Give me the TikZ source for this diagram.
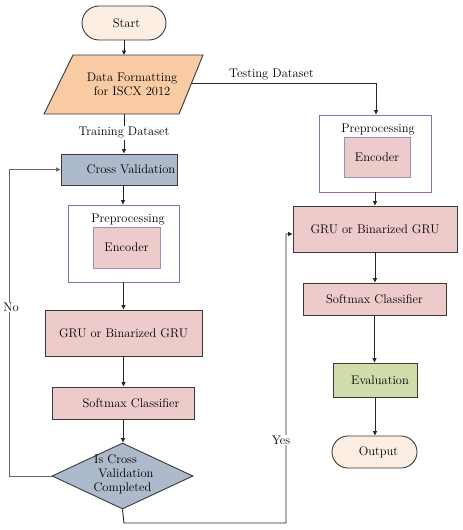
\documentclass[tikz,border=0pt]{standalone}
\usetikzlibrary{arrows.meta,shapes.geometric,shapes.misc,calc}
\definecolor{peach}{HTML}{FDEEE4}
\definecolor{orangef}{HTML}{F9CBA5}
\definecolor{bluegray}{HTML}{ADBACB}
\definecolor{pinkf}{HTML}{EECBCB}
\definecolor{greenf}{HTML}{CFDDAA}
\definecolor{purp}{HTML}{8A70AA}
\definecolor{edge}{HTML}{3A3A3A}
\tikzset{
  every node/.style={font=\rmfamily\fontsize{12.5}{14}\selectfont, inner sep=0pt},
  box/.style={draw=edge, line width=0.9pt, rectangle},
  term/.style={draw=edge, line width=0.9pt, rounded rectangle, fill=peach},
  prebox/.style={draw=purp, line width=0.8pt, fill=white},
  encbox/.style={draw=purp!80, line width=0.8pt, fill=pinkf},
  conn/.style={draw=black!85, line width=0.9pt, -{Triangle[length=4.5pt,width=4pt]}},
  lbl/.style={fill=white, inner sep=1pt},
}
\begin{document}
\begin{tikzpicture}[x=1pt,y=-1pt]
\useasboundingbox (0,0) rectangle (463,530);
% Start
\node[term, minimum width=84pt, minimum height=34pt, label={[xshift=2.5pt]center:Start}] (start) at (124,23) {};
% Data formatting parallelogram
\coordinate (dtop) at (124,55);
\coordinate (dbot) at (124,114);
\coordinate (dright) at (191.5,83);
\draw[fill=orangef, draw=edge, line width=0.9pt] (73,55) -- (203,55) -- (179,114) -- (44,114) -- cycle;
\node[align=center] (data) at (132,84) {Data Formatting\\for ISCX 2012};
% Cross validation
\node[box, fill=bluegray, minimum width=116pt, minimum height=31pt, label={[xshift=12pt]center:Cross Validation}] (cv) at (119,169.5) {};
% Left preprocessing
\node[prebox, minimum width=111pt, minimum height=77pt] (lpre) at (123.5,243.5) {};
\node (lpretxt) at (128,220) {Preprocessing};
\node[encbox, minimum width=67pt, minimum height=41pt] (lenc) at (126.5,247.5) {Encoder};
% Left GRU
\node[box, fill=pinkf, minimum width=157pt, minimum height=46pt] (lgru) at (123.5,333) {GRU or Binarized GRU};
% Left softmax
\node[box, fill=pinkf, minimum width=142pt, minimum height=32pt, label={[xshift=8pt]center:Softmax Classifier}] (lsoft) at (123,403) {};
% Diamond
\node[diamond, draw=edge, line width=0.9pt, fill=bluegray, minimum width=141pt, minimum height=66pt, aspect=2.14] (dia) at (122.5,476) {};
\node[align=center] (diatxt) at (122.5,474) {Is Cross\hspace*{14pt}\\\hspace*{7pt}Validation\\Completed};
% Right preprocessing
\node[prebox, minimum width=112pt, minimum height=77pt] (rpre) at (375,153.5) {};
\node (rpretxt) at (378,130) {Preprocessing};
\node[encbox, minimum width=66pt, minimum height=40pt] (renc) at (377,157) {Encoder};
% Right GRU
\node[box, fill=pinkf, minimum width=164pt, minimum height=46pt] (rgru) at (375,229) {GRU or Binarized GRU};
% Right softmax
\node[box, fill=pinkf, minimum width=143pt, minimum height=32pt] (rsoft) at (374.5,299) {Softmax Classifier};
% Evaluation
\node[box, fill=greenf, minimum width=84pt, minimum height=34pt, label={[xshift=5pt]center:Evaluation}] (eval) at (375,380) {};
% Output
\node[term, minimum width=85pt, minimum height=32pt, label={[xshift=4pt]center:Output}] (out) at (374.5,452) {};

% Connectors
\draw[conn] (start.south) -- (dtop);
\draw[conn] (dbot) -- (dbot |- cv.north);
\node[lbl] (train) at (124,133) {Training Dataset};
\coordinate (tcorner) at (376,83);
\draw[conn] (dright) -- (tcorner) -- (tcorner |- rpre.north);
\node (test) at (271.5,75) {Testing Dataset};
\draw[conn] ($(cv.south)+(4,0)$) -- ($(lpre.north)+(-0.5,0)$);
\draw[conn] (lpre.south) -- (lgru.north);
\draw[conn] (lgru.south) -- (lgru.south |- lsoft.north);
\draw[conn] (lsoft.south) -- (lsoft.south |- dia.north);
% No loop
\coordinate (nob) at (9,476);
\draw[conn, draw=black!60] (dia.west) -- (nob) |- (cv.west);
\node[lbl] (no) at (11,307) {No};
% Yes path
\coordinate (yb) at (124,523);
\coordinate (yr) at (286,523);
\coordinate (yt) at (286,234);
\draw[conn] (dia.south) -- (yb) -- (yr) -- (yt) -- (yt -| rgru.west);
\node[lbl] (yes) at (281,440) {Yes};
% Right column
\draw[conn] (rpre.south) -- (rgru.north);
\draw[conn] (rgru.south) -- (rgru.south |- rsoft.north);
\draw[conn] (rsoft.south) -- (rsoft.south |- eval.north);
\draw[conn] (eval.south) -- (eval.south |- out.north);
\end{tikzpicture}
\end{document}
